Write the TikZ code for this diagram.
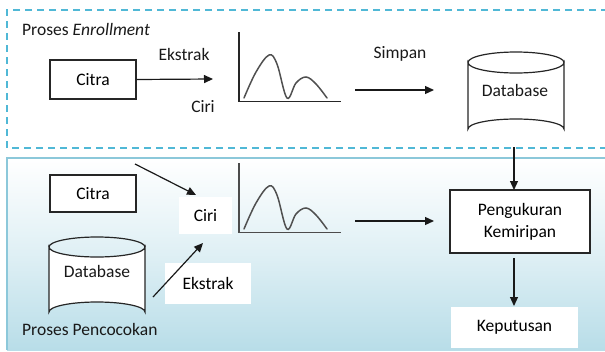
\documentclass[tikz,border=0pt]{standalone}
\usepackage{fontspec}
\setmainfont{Carlito}
\usetikzlibrary{arrows.meta}
\definecolor{dashblue}{RGB}{80,184,214}
\definecolor{panelline}{RGB}{140,200,218}
\definecolor{panelbot}{RGB}{184,221,232}
\definecolor{curvegray}{RGB}{80,80,80}
\begin{document}
\begin{tikzpicture}[x=1pt,y=-1pt,
  txt/.style={font=\fontsize{17.5}{21}\selectfont, inner sep=0pt, text=black!90},
  boxn/.style={draw=black!85, line width=1.2pt, fill=white, font=\fontsize{17.5}{21}\selectfont, inner sep=0pt},
  whitebox/.style={fill=white, font=\fontsize{17.5}{21}\selectfont, inner sep=0pt},
  arr/.style={-{Triangle[length=9pt,width=8pt]}, line width=1.2pt, draw=black!90},
  axis/.style={line width=1.4pt},
  curve/.style={line width=1.5pt, draw=curvegray, line cap=round},
  cyl/.style={draw=black!85, line width=1.2pt, fill=white},
]
\useasboundingbox (0,0) rectangle (605,351);
% top dashed panel
\draw[dashblue, line width=1.3pt, dash pattern=on 7pt off 5pt] (608,10) -- (7,10) -- (7,148) -- (608,148);
% bottom panel
\shade[top color=white, bottom color=panelbot, middle color=white!55!panelbot] (7,158) rectangle (606,350);
\draw[panelline, line width=1.2pt] (606,158) -- (7,158) -- (7,350);

% ---------- top panel ----------
\node[txt, anchor=base west] (title1) at (22,35) {Proses \textit{Enrollment}};
\node[boxn, minimum width=86pt, minimum height=39pt] (citra1) at (93,79.5) {Citra};
\coordinate (ek1end) at (213,79);
\draw[arr] (citra1.east) -- (ek1end);
\node[txt] (ekstrak1) at (184,54) {Ekstrak};
\node[txt] (ciri1) at (203,107) {Ciri};
% chart 1
\coordinate (ax1top) at (239,32);
\coordinate (ax1org) at (239,101.5);
\coordinate (ax1end) at (341,101.5);
\draw[axis, black!85] (ax1top) -- (ax1org) -- (ax1end);
\draw[curve] plot[smooth, tension=0.6] coordinates {(244,98) (256,72) (269,55) (277,64) (287,98) (296,83) (306,77) (316,84) (327,98)};
% simpan arrow
\coordinate (sp1a) at (355,90);
\coordinate (sp1b) at (434,90);
\draw[arr] (sp1a) -- (sp1b);
\node[txt] (simpan) at (400,54) {Simpan};
% database top
\draw[cyl] (468,62.5) -- (468,129) arc[start angle=180, end angle=360, x radius=48, y radius=10] -- (564,62.5) arc[start angle=0, end angle=180, x radius=48, y radius=10.5] -- cycle;
\draw[black!85, line width=1.2pt] (468,62.5) arc[start angle=180, end angle=360, x radius=48, y radius=10.5];
\node[txt] (db1) at (515,90) {Database};
\coordinate (db1bot) at (514,147);

% ---------- bottom panel ----------
\node[txt, anchor=base west] (title2) at (22,335) {Proses Pencocokan};
\node[boxn, minimum width=86pt, minimum height=37pt] (citra2) at (93,193.5) {Citra};
% database bottom
\draw[cyl] (49,247) -- (49,312) arc[start angle=180, end angle=360, x radius=48, y radius=10] -- (145,247) arc[start angle=0, end angle=180, x radius=48, y radius=10] -- cycle;
\draw[black!85, line width=1.2pt] (49,247) arc[start angle=180, end angle=360, x radius=48, y radius=10];
\node[txt] (db2) at (97,271) {Database};
% white label boxes
\node[whitebox, minimum width=53pt, minimum height=37pt] (ciri2) at (205.5,215.5) {Ciri};
\node[whitebox, minimum width=86pt, minimum height=41pt] (ekstrak2) at (208,283.5) {Ekstrak};
% chart 2
\coordinate (ax2top) at (239,163);
\coordinate (ax2org) at (239,232.5);
\coordinate (ax2end) at (341,232.5);
\draw[axis, black!70] (ax2top) -- (ax2org) -- (ax2end);
\draw[curve] plot[smooth, tension=0.6] coordinates {(244,229) (256,203) (269,186) (277,195) (287,229) (296,214) (306,208) (316,215) (327,229)};
% arrows into Ciri
\coordinate (c2from) at (135,164);
\coordinate (c2to) at (196,195);
\draw[arr] (c2from) -- (c2to);
\coordinate (d2from) at (153,297);
\coordinate (d2to) at (203,243);
\draw[arr] (d2from) -- (d2to);
% arrow to Pengukuran
\coordinate (sp2a) at (355,221);
\coordinate (sp2b) at (434,221);
\draw[arr] (sp2a) -- (sp2b);
\node[boxn, minimum width=140pt, minimum height=63pt, align=center] (peng) at (520,221.5) {Pengukuran\\[1pt]Kemiripan};
\node[whitebox, minimum width=127pt, minimum height=41pt] (kep) at (514.5,327.5) {Keputusan};
\coordinate (pengtop) at (514,190);
\draw[arr] (db1bot) -- (pengtop);
\coordinate (pengbot) at (514,258);
\coordinate (kepin) at (514,306);
\draw[arr] (pengbot) -- (kepin);
\end{tikzpicture}
\end{document}
